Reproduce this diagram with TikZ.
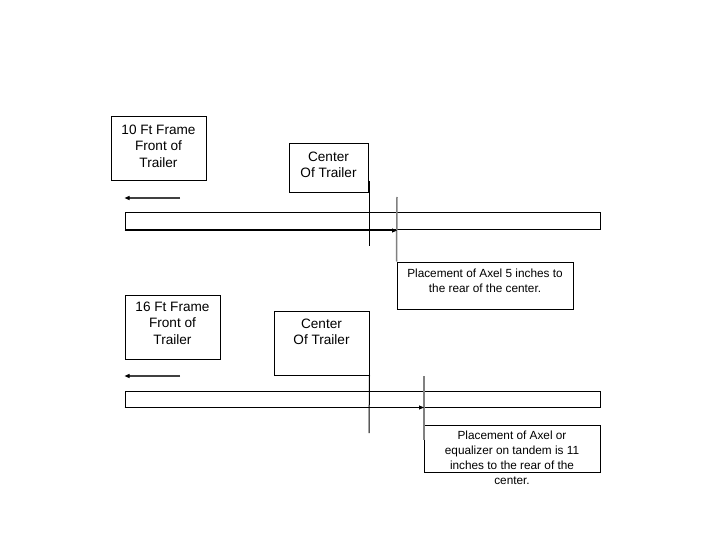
\documentclass[tikz,border=0pt]{standalone}
\usepackage{fontspec}
\setmainfont{Liberation Sans}
\usetikzlibrary{positioning,arrows.meta}

\begin{document}
\begin{tikzpicture}[
            > = {Triangle[length=5pt, width=4pt, black]}, % arrow head style
            x = 1pt, y = -1pt, % one unit per pixel, y pointing down
            frame/.style = {draw=black, line width=1pt, inner sep=0pt},
            bigtxt/.style = {font=\fontsize{13.6}{16.5}\selectfont, align=center, inner sep=0pt},
            smalltxt/.style = {font=\fontsize{11.8}{15}\selectfont, align=center, inner sep=0pt},
            axle/.style = {draw=gray, line width=1.5pt},
            pointer/.style = {->, draw=darkgray, line width=1.2pt},
            line width=1pt
        ]
\useasboundingbox (0,0) rectangle (720,540);

% 10 ft frame
\node[frame, minimum width=95, minimum height=64] (front10) at (158.5,149) {};
\node[bigtxt, below=8pt of front10.north] (front10txt) {10 Ft Frame\\Front of\\Trailer};
\node[frame, minimum width=79, minimum height=49] (centre10) at (328.5,168.5) {};
\node[bigtxt, below=8pt of centre10.north] (centre10txt) {Center\\Of Trailer};
\node[frame, minimum width=475, minimum height=17] (bar10) at (362.5,221.5) {};
\node[frame, minimum width=176, minimum height=47] (place10) at (485,285.5) {};
\node[smalltxt, below=7pt of place10.north] (place10txt) {Placement of Axel 5 inches to\\the rear of the center.};

\coordinate (dir10) at (180,198);
\coordinate (mid10top) at (369,181);
\coordinate (mid10bot) at (369,246);
\coordinate (axle10top) at (397,197);

\draw[pointer] (dir10) -- (dir10 -| bar10.west);
\draw (mid10top) -- (mid10bot);
\draw[axle] (axle10top) -- (place10.north west);
\draw[->] (bar10.south west) -- (bar10.south west -| axle10top);

% 16 ft frame
\node[frame, minimum width=95, minimum height=64] (front16) at (172.5,327) {};
\node[bigtxt, below=7pt of front16.north] (front16txt) {16 Ft Frame\\Front of\\Trailer};
\node[frame, minimum width=95, minimum height=64] (centre16) at (321.5,343) {};
\node[bigtxt, below=8pt of centre16.north] (centre16txt) {Center\\Of Trailer};
\node[frame, minimum width=475, minimum height=16] (bar16) at (362.5,399) {};
\node[frame, minimum width=176, minimum height=47] (place16) at (512,448.5) {};
\node[smalltxt, below=6pt of place16.north] (place16txt) {Placement of Axel or\\equalizer on tandem is 11\\inches to the rear of the\\center.};

\coordinate (dir16) at (180,376);
\coordinate (mid16bot) at (369,433);
\coordinate (axle16top) at (424,376);
\coordinate (axle16bot) at (424,440);

\draw[pointer] (dir16) -- (dir16 -| bar16.west);
\draw (centre16.south east) -- (mid16bot);
\draw[axle] (axle16top) -- (axle16bot);
\draw[->] (bar16.south west) -- (bar16.south west -| axle16top);
\end{tikzpicture}
\end{document}
